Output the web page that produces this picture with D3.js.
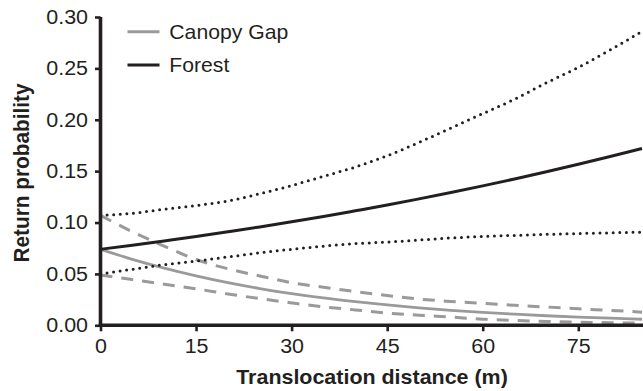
<!DOCTYPE html>
<html>
<head>
<meta charset="utf-8">
<script src="https://cdn.jsdelivr.net/npm/d3@7"></script>
<style>
  html, body { margin: 0; padding: 0; background: #fff; }
  svg { display: block; }
  text { font-family: "Liberation Sans", Arial, Helvetica, sans-serif; fill: #231f20; }
</style>
</head>
<body>
<svg id="chart" width="643" height="391"></svg>
<script>
// ---- Data ----
const distances = [0,5,10,15,20,25,30,35,40,45,50,55,60,65,70,75,80,85];
const forestMean  = [0.0740,0.0779,0.0821,0.0864,0.0910,0.0957,0.1007,0.1059,0.1114,0.1170,0.1230,0.1292,0.1357,0.1424,0.1494,0.1567,0.1642,0.1720];
const forestUpper = [0.107,0.109,0.113,0.1165,0.121,0.128,0.136,0.145,0.154,0.165,0.178,0.192,0.206,0.220,0.236,0.251,0.268,0.286];
const forestLower = [0.050,0.0545,0.059,0.0625,0.0665,0.0705,0.074,0.077,0.0795,0.081,0.083,0.085,0.0865,0.0875,0.0885,0.0893,0.090,0.0906];
const gapMean  = [0.0740,0.0642,0.0556,0.0481,0.0415,0.0358,0.0309,0.0266,0.0230,0.0198,0.0170,0.0146,0.0126,0.0108,0.0093,0.0080,0.0069,0.0059];
const gapUpper = [0.107,0.091,0.077,0.064,0.055,0.048,0.0415,0.037,0.0328,0.029,0.0255,0.0232,0.0213,0.0195,0.0178,0.0161,0.0145,0.0128];
const gapLower = [0.049,0.0445,0.040,0.0355,0.0305,0.026,0.0218,0.018,0.015,0.0118,0.0098,0.008,0.006,0.0048,0.0038,0.003,0.0025,0.0021];
const xTicks = [0,15,30,45,60,75];
const yTicks = [0,0.05,0.10,0.15,0.20,0.25,0.30];
const legendLabels = ["Canopy Gap","Forest"];
const xTitle = "Translocation distance (m)";
const yTitle = "Return probability";

const BLACK = "#231f20", GRAY = "#9a9a9a";
const SX = 1.1; // horizontal text stretch seen in the reference

const svg = d3.select("#chart");
const x = d3.scaleLinear().domain([0,85]).range([100.5,642]);
const y = d3.scaleLinear().domain([0,0.30]).range([325.3,17]);

const line = d3.line().x(d=>x(d[0])).y(d=>y(d[1])).curve(d3.curveMonotoneX);
const pts = arr => distances.map((d,i)=>[d,arr[i]]);

const g = svg.append("g");
// Canopy gap (gray)
g.append("path").attr("d", line(pts(gapUpper))).attr("fill","none").attr("stroke",GRAY)
  .attr("stroke-width",3).attr("stroke-dasharray","12,9");
g.append("path").attr("d", line(pts(gapLower))).attr("fill","none").attr("stroke",GRAY)
  .attr("stroke-width",3).attr("stroke-dasharray","12,9");
g.append("path").attr("d", line(pts(gapMean))).attr("fill","none").attr("stroke",GRAY)
  .attr("stroke-width",2.8);
// Forest (black)
g.append("path").attr("d", line(pts(forestUpper))).attr("fill","none").attr("stroke",BLACK)
  .attr("stroke-width",3).attr("stroke-linecap","round").attr("stroke-dasharray","0,6.6");
g.append("path").attr("d", line(pts(forestLower))).attr("fill","none").attr("stroke",BLACK)
  .attr("stroke-width",3).attr("stroke-linecap","round").attr("stroke-dasharray","0,6.6");
g.append("path").attr("d", line(pts(forestMean))).attr("fill","none").attr("stroke",BLACK)
  .attr("stroke-width",3);

// Axes
const yAxis = d3.axisLeft(y).tickValues(yTicks).tickFormat(d3.format(".2f"))
  .tickSizeInner(5.5).tickSizeOuter(0).tickPadding(7);
const xAxis = d3.axisBottom(x).tickValues(xTicks).tickFormat(d3.format("d"))
  .tickSizeInner(6).tickSizeOuter(0).tickPadding(8);

const ya = svg.append("g").attr("transform","translate(100.5,0)").call(yAxis);
const xa = svg.append("g").attr("transform","translate(0,325.3)").call(xAxis);
[ya, xa].forEach(a=>{
  a.select(".domain").attr("stroke",BLACK).attr("stroke-width",3.6);
  a.selectAll(".tick line").attr("stroke",BLACK).attr("stroke-width",2.6);
  a.selectAll(".tick text").attr("fill",BLACK).style("font-size","19.5px")
    .attr("font-family",null);
});
ya.selectAll(".tick text").attr("transform",`scale(${SX},1)`).attr("x",-12.5/SX);
xa.selectAll(".tick text").attr("transform",`scale(${SX},1)`);
// extend domains to meet at the corner
ya.select(".domain").attr("d", `M0,${y(0)+1.8}V${y(0.30)}`);
xa.select(".domain").attr("d", `M${x(0)-1.8},0H643`);

// Axis titles
svg.append("text").attr("transform",`translate(372,383.5) scale(${SX},1)`)
  .attr("text-anchor","middle").style("font-size","19.5px").style("font-weight","bold").text(xTitle);
svg.append("text").attr("transform",`translate(28.5,173) scale(${SX},1) rotate(-90)`)
  .attr("text-anchor","middle").style("font-size","20.8px").style("font-weight","bold").text(yTitle);

// Legend
const legColors = [GRAY, BLACK];
const legY = [31.7, 65];
legendLabels.forEach((lab,i)=>{
  svg.append("line").attr("x1",127.5).attr("x2",159.5).attr("y1",legY[i]).attr("y2",legY[i])
    .attr("stroke",legColors[i]).attr("stroke-width",3);
  svg.append("text").attr("transform",`translate(169.3,${legY[i]+7}) scale(1.06,1)`)
    .style("font-size","20px").text(lab);
});
</script>
</body>
</html>
